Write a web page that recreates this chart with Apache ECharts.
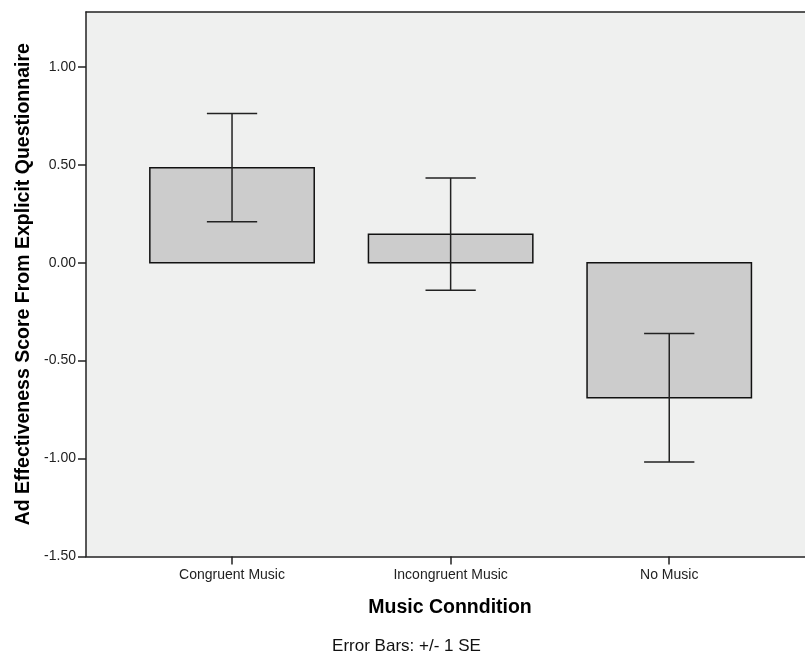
<!DOCTYPE html>
<html>
<head>
<meta charset="utf-8">
<script src="https://cdn.jsdelivr.net/npm/echarts@6/dist/echarts.min.js"></script>
<style>
html,body{margin:0;padding:0;background:#fff;}
#chart{width:805px;height:660px;}
</style>
</head>
<body>
<div id="chart"></div>
<script>
const categories = ['Congruent Music', 'Incongruent Music', 'No Music'];
const means = [0.485, 0.145, -0.689];
const upper = [0.762, 0.433, -0.362];
const lower = [0.209, -0.140, -1.018];
const yTicks = [-1.5, -1.0, -0.5, 0, 0.5, 1.0];
const yMin = -1.5, yMax = 1.28;

const barHalf = 0.376;
const capHalf = 0.115;

const chart = echarts.init(document.getElementById('chart'), null, {renderer: 'canvas'});
const FONT = 'Liberation Sans, Arial, sans-serif';

const barData = categories.map((c, i) => [i, means[i]]);
const errData = categories.map((c, i) => [i, lower[i], upper[i]]);

chart.setOption({
  animation: false,
  backgroundColor: '#ffffff',
  grid: {
    left: 86, top: 12, right: 0, bottom: 103.5,
    show: true, backgroundColor: '#eff0ef', borderWidth: 0
  },
  xAxis: [{
    type: 'value', min: -0.668, max: 2.621,
    name: 'Music Conndition', nameLocation: 'middle', nameGap: 41,
    nameTextStyle: {fontFamily: FONT, fontSize: 19.5, fontWeight: 'bold', color: '#000', padding: [0, 0, 0, 9]},
    axisLine: {show: true, onZero: false, lineStyle: {color: '#222', width: 1.5}},
    axisTick: {show: true, length: 8, lineStyle: {color: '#222', width: 1.5}, customValues: [0, 1, 2]},
    axisLabel: {
      show: true, margin: 12, fontFamily: FONT, fontSize: 14, color: '#222',
      customValues: [0, 1, 2],
      formatter: v => categories[Math.round(v)] || ''
    },
    splitLine: {show: false}
  }, {
    type: 'value', position: 'top', min: -0.668, max: 2.621,
    axisLine: {show: true, onZero: false, lineStyle: {color: '#222', width: 1.5}},
    axisTick: {show: false}, axisLabel: {show: false}, splitLine: {show: false}
  }],
  yAxis: {
    type: 'value', min: yMin, max: yMax,
    name: 'Ad Effectiveness Score From Explicit Questionnaire', nameLocation: 'middle', nameGap: 52,
    nameTextStyle: {fontFamily: FONT, fontSize: 19.5, fontWeight: 'bold', color: '#000'},
    axisLine: {show: true, onZero: false, lineStyle: {color: '#222', width: 1.5}},
    axisTick: {show: true, length: 8, lineStyle: {color: '#222', width: 1.5}, customValues: yTicks},
    axisLabel: {
      show: true, margin: 10, fontFamily: FONT, fontSize: 14, color: '#222',
      customValues: yTicks,
      formatter: v => v.toFixed(2)
    },
    splitLine: {show: false}
  },
  graphic: [{
    type: 'text', x: 406.5, y: 646,
    style: {text: 'Error Bars: +/- 1 SE', font: '17px ' + FONT, fill: '#111', textAlign: 'center', textVerticalAlign: 'middle'}
  }],
  series: [
    {
      type: 'custom',
      data: barData,
      encode: {x: 0, y: 1},
      renderItem: function (params, api) {
        const x = api.value(0), m = api.value(1);
        const p1 = api.coord([x - barHalf, Math.max(m, 0)]);
        const p2 = api.coord([x + barHalf, Math.min(m, 0)]);
        return {
          type: 'rect',
          shape: {x: p1[0], y: p1[1], width: p2[0] - p1[0], height: p2[1] - p1[1]},
          style: {fill: '#cccccc', stroke: '#111', lineWidth: 1.5}
        };
      },
      z: 2
    },
    {
      type: 'custom',
      data: errData,
      encode: {x: 0, y: [1, 2]},
      renderItem: function (params, api) {
        const x = api.value(0), lo = api.value(1), hi = api.value(2);
        const top = api.coord([x, hi]);
        const bot = api.coord([x, lo]);
        const tl = api.coord([x - capHalf, hi]);
        const tr = api.coord([x + capHalf, hi]);
        const bl = api.coord([x - capHalf, lo]);
        const br = api.coord([x + capHalf, lo]);
        const st = {stroke: '#222', lineWidth: 1.5};
        return {
          type: 'group',
          children: [
            {type: 'line', shape: {x1: top[0], y1: top[1], x2: bot[0], y2: bot[1]}, style: st},
            {type: 'line', shape: {x1: tl[0], y1: tl[1], x2: tr[0], y2: tr[1]}, style: st},
            {type: 'line', shape: {x1: bl[0], y1: bl[1], x2: br[0], y2: br[1]}, style: st}
          ]
        };
      },
      z: 3
    }
  ]
});
</script>
</body>
</html>
